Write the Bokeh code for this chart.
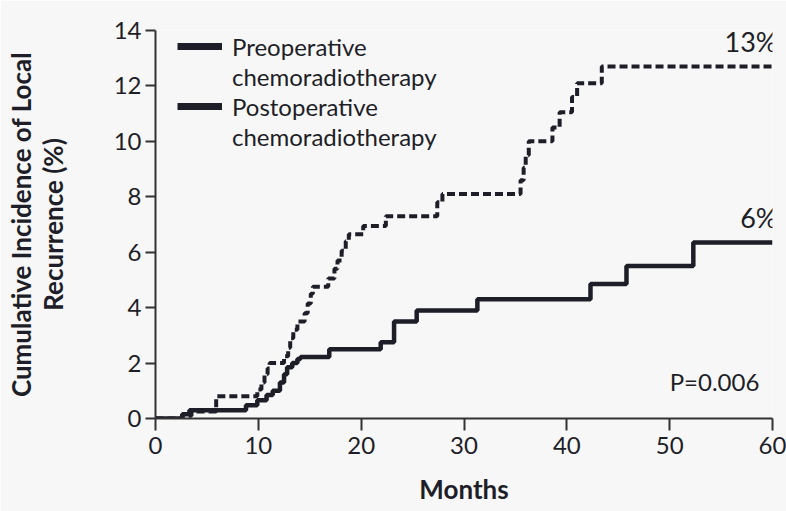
from bokeh.plotting import figure
from bokeh.models import Legend, LegendItem, Label, FixedTicker, Range1d
from bokeh.core.properties import value
from bokeh.embed import file_html
from bokeh.resources import INLINE

# ---- data ----
months_pre = [0, 2.6, 3.5, 5.9, 9.9, 10.3, 10.6, 10.9, 11.1, 12.5, 12.9, 13.1, 13.4, 13.8,
              14.5, 14.8, 15.1, 15.3, 16.8, 17.4, 17.7, 18.1, 18.5, 18.8, 20.2, 22.4,
              27.4, 27.9, 35.5, 35.8, 36.0, 36.3, 38.6, 39.3, 40.5, 41.0, 43.4, 60]
inc_pre = [0, 0.1, 0.25, 0.8, 1.05, 1.3, 1.6, 1.8, 2.0, 2.25, 2.55, 2.9, 3.2, 3.5,
           3.8, 4.15, 4.5, 4.75, 5.05, 5.4, 5.7, 6.05, 6.4, 6.65, 6.95, 7.3,
           7.8, 8.1, 8.6, 9.05, 9.5, 10.0, 10.5, 11.05, 11.6, 12.1, 12.7, 12.7]

months_post = [0, 2.6, 3.3, 8.8, 9.9, 10.8, 11.4, 12.1, 12.5, 12.8, 13.3, 13.8, 14.1,
               16.9, 21.9, 23.2, 25.4, 31.3, 42.3, 45.8, 52.3, 60]
inc_post = [0, 0.15, 0.3, 0.48, 0.66, 0.85, 1.0, 1.3, 1.6, 1.85, 2.0, 2.15, 2.22,
            2.5, 2.75, 3.5, 3.9, 4.3, 4.85, 5.5, 6.35, 6.35]

series_names = ["Preoperative", "chemoradiotherapy", "Postoperative", "chemoradiotherapy"]
end_labels = ["13%", "6%"]
p_value_text = "P=0.006"
p_value_pos = (50.0, 1.33)

x_ticks = [0, 10, 20, 30, 40, 50, 60]
y_ticks = [0, 2, 4, 6, 8, 10, 12, 14]

BG = "#f7f7f7"
INK = "#1e1e28"
FONT = "Lato"
NAN = float("nan")

p = figure(width=786, height=511, output_backend="svg", toolbar_location=None,
           x_range=Range1d(0, 60), y_range=Range1d(0, 14),
           min_border_left=155, min_border_right=14, min_border_top=30, min_border_bottom=93)
p.background_fill_color = BG
p.border_fill_color = BG
p.outline_line_color = None
p.grid.visible = False

# curves
p.step(x=months_pre, y=inc_pre, mode="after", line_width=4, line_color=INK, line_dash="8 4")
p.step(x=months_post, y=inc_post, mode="after", line_width=4.5, line_color=INK)

# end-value labels
p.text(x=[months_pre[-1]], y=[inc_pre[-1]], text=[end_labels[0]], text_align="right",
       text_baseline="bottom", x_offset=5, y_offset=-9, text_font=value(FONT),
       text_font_size="27px", text_color=INK)
p.text(x=[months_post[-1]], y=[inc_post[-1]], text=[end_labels[1]], text_align="right",
       text_baseline="bottom", x_offset=5, y_offset=-9, text_font=value(FONT),
       text_font_size="27px", text_color=INK)

p.add_layout(Label(x=p_value_pos[0], y=p_value_pos[1], text=p_value_text, text_align="left",
                   text_baseline="middle", text_font=FONT, text_font_size="24px",
                   text_color=INK))

# legend (solid keys, multi-line labels split into rows)
key1 = p.line(x=[NAN], y=[NAN], line_width=7, line_color=INK)
key2 = p.line(x=[NAN], y=[NAN], line_width=7, line_color=INK)
blank1 = p.line(x=[NAN], y=[NAN], line_width=1, line_alpha=0)
blank2 = p.line(x=[NAN], y=[NAN], line_width=1, line_alpha=0)
legend = Legend(items=[LegendItem(label=series_names[0], renderers=[key1]),
                       LegendItem(label=series_names[1], renderers=[blank1]),
                       LegendItem(label=series_names[2], renderers=[key2]),
                       LegendItem(label=series_names[3], renderers=[blank2])],
                location=(22, 388 - 121), padding=0, margin=0, spacing=0,
                glyph_width=45, glyph_height=30, label_height=30, label_standoff=10,
                label_text_font=FONT, label_text_font_size="24px", label_text_color=INK,
                background_fill_alpha=0, border_line_alpha=0)
p.add_layout(legend, "center")

# axes
for ax in (p.xaxis[0], p.yaxis[0]):
    ax.axis_line_color = "#333333"
    ax.axis_line_width = 2
    ax.major_tick_line_color = "#333333"
    ax.major_tick_line_width = 2
    ax.major_tick_in = 0
    ax.minor_tick_line_color = None
    ax.major_label_text_font = FONT
    ax.major_label_text_font_size = "24px"
    ax.major_label_text_color = INK
    ax.axis_label_text_font = FONT
    ax.axis_label_text_font_style = "bold"
    ax.axis_label_text_font_size = "26px"
    ax.axis_label_text_color = INK

p.xaxis.ticker = FixedTicker(ticks=x_ticks)
p.yaxis.ticker = FixedTicker(ticks=y_ticks)
p.xaxis.major_tick_out = 12
p.yaxis.major_tick_out = 10
p.xaxis.major_label_standoff = 6
p.yaxis.major_label_standoff = 4
p.xaxis.axis_label = "Months"
p.xaxis.axis_label_standoff = 16
p.yaxis.axis_label = "Cumulative Incidence of Local\nRecurrence (%)"
p.yaxis.axis_label_text_line_height = 1.0
p.yaxis.axis_label_standoff = 42

open("out.html", "w").write(file_html(p, INLINE))
